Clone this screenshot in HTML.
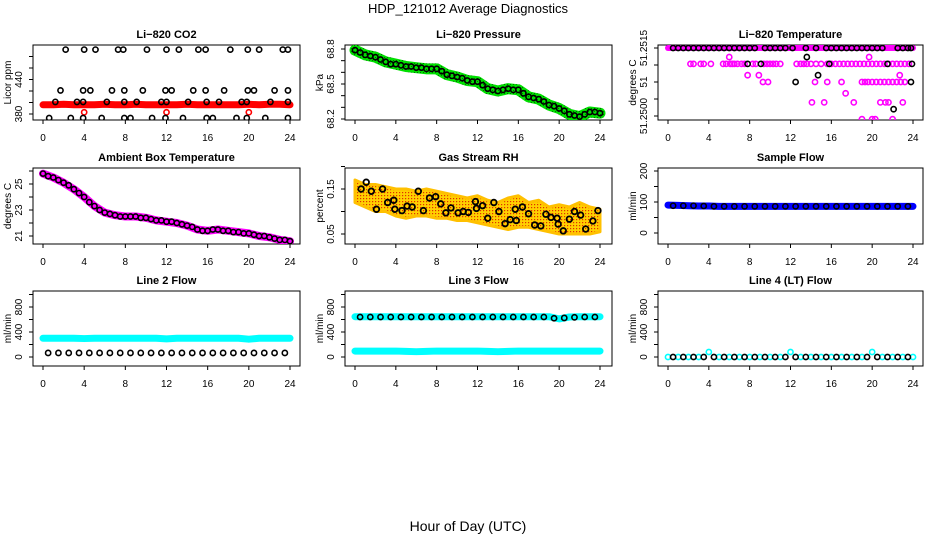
<!DOCTYPE html>
<html><head><meta charset="utf-8"><style>
html,body{margin:0;padding:0;background:#fff}
svg{display:block;font-family:"Liberation Sans",sans-serif}
</style></head><body>
<svg id="c" width="936" height="540" viewBox="0 0 936 540">
<text x="468" y="13" text-anchor="middle" font-size="13">HDP_121012  Average Diagnostics</text>
<text x="468" y="531" text-anchor="middle" font-size="14">Hour of Day (UTC)</text>
</svg>
<script>
// ---- data ----
const xTicks=[0,4,8,12,16,20,24];
const hours=[0,1,2,3,4,5,6,7,8,9,10,11,12,13,14,15,16,17,18,19,20,21,22,23,24];
const halfHours=[0.5,1.5,2.5,3.5,4.5,5.5,6.5,7.5,8.5,9.5,10.5,11.5,12.5,13.5,14.5,15.5,16.5,17.5,18.5,19.5,20.5,21.5,22.5,23.5];
// CO2
const co2Red=[396,396,397,396,396,396,397,396,396,397,396,396,396,396,397,396,396,396,396,396,397,396,397,397,396];
const co2RedOutHours=[4,12,20];
const co2RedOutVals=[383,383,383];
const co2BlackHours=[2.2,4,5.1,7.3,7.8,10.1,12,13.2,15.1,15.8,18.2,19.9,21,23.3,23.8, 1.7,3.9,4.6,6.7,7.9,9.7,11.9,12.5,14.6,15.8,17.6,19.9,20.5,22.5,23.8, 1.2,3.3,3.9,6.2,7.9,9.1,11.5,12,14.1,15.9,17.1,19.3,19.8,22.1,23.8, 0.6,2.7,3.9,5.7,7.9,8.5,10.6,11.9,13.6,15.9,16.5,18.8,19.8,21.6,23.8];
const co2BlackVals=[492,492,492,492,492,492,492,492,492,492,492,492,492,492,492, 421,421,421,421,421,421,421,421,421,421,421,421,421,421,421, 401,401,401,401,401,401,401,401,401,401,401,401,401,401,401, 373,373,373,373,373,373,373,373,373,373,373,373,373,373,373];
// Pressure
const presGreen=[68.79,68.75,68.73,68.69,68.67,68.65,68.64,68.63,68.63,68.58,68.56,68.53,68.52,68.46,68.44,68.46,68.45,68.39,68.37,68.32,68.29,68.24,68.22,68.26,68.25];
const presBlackHalf=[68.77,68.74,68.71,68.67,68.66,68.65,68.64,68.63,68.61,68.57,68.55,68.52,68.49,68.45,68.45,68.45,68.42,68.38,68.35,68.31,68.27,68.23,68.24,68.26];
// Li-820 temperature
const tempTopHours=hours;
const tempTopVals=[51.2515,51.2515,51.2515,51.2515,51.2515,51.2515,51.2515,51.2515,51.2515,51.2515,51.2515,51.2515,51.2515,51.2515,51.2515,51.2515,51.2515,51.2515,51.2515,51.2515,51.2515,51.2515,51.2515,51.2515,51.2515];
const tempMagHours=[2.2,2.5,3.2,3.5,4.2,5.4,5.7,6.1,6.3,6.5,6.8,7.2,7.5,8.3,8.6,9.4,9.7,10,10.3,10.6,11,12.6,13,13.3,13.6,14,14.5,15,15.6,16,16.4,16.8,17.2,17.6,18,18.4,18.8,19.2,19.6,20,20.4,20.8,21.2,21.6,22,22.4,22.8,23.2,23.6,
 6,19.7, 7.8,8.9,22.7, 9.3,9.8,14.4,15.6,17,19,19.3,19.6,20,20.4,20.8,21.2,21.6,22,22.4,22.8,23.2, 17.4, 14.1,15.3,18.2,20.8,21.3,21.6,23, 19,20,20.3,22];
const tempMagVals=[51.25115,51.25115,51.25115,51.25115,51.25115,51.25115,51.25115,51.25115,51.25115,51.25115,51.25115,51.25115,51.25115,51.25115,51.25115,51.25115,51.25115,51.25115,51.25115,51.25115,51.25115,51.25115,51.25115,51.25115,51.25115,51.25115,51.25115,51.25115,51.25115,51.25115,51.25115,51.25115,51.25115,51.25115,51.25115,51.25115,51.25115,51.25115,51.25115,51.25115,51.25115,51.25115,51.25115,51.25115,51.25115,51.25115,51.25115,51.25115,51.25115,
 51.2513,51.2513, 51.2509,51.2509,51.2509, 51.25075,51.25075,51.25075,51.25075,51.25075,51.25075,51.25075,51.25075,51.25075,51.25075,51.25075,51.25075,51.25075,51.25075,51.25075,51.25075,51.25075, 51.2505, 51.2503,51.2503,51.2503,51.2503,51.2503,51.2503,51.2503, 51.24993,51.24993,51.24993,51.24993];
const tempBlackHours=[0.5,1,1.5,2,2.5,3,3.5,4,4.5,5,5.5,6,6.5,7,7.5,8,8.5,9.5,10,10.5,11,11.5,12.2,13.5,14.5,15.5,16,16.5,17,17.5,18,18.5,19,19.5,20,20.5,21,22.5,23,23.5,23.8, 7.8,9.1,15.8,21.5,23.9, 13.6, 14.7, 12.5,23.8, 22.1];
const tempBlackVals=[51.2515,51.2515,51.2515,51.2515,51.2515,51.2515,51.2515,51.2515,51.2515,51.2515,51.2515,51.2515,51.2515,51.2515,51.2515,51.2515,51.2515,51.2515,51.2515,51.2515,51.2515,51.2515,51.2515,51.2515,51.2515,51.2515,51.2515,51.2515,51.2515,51.2515,51.2515,51.2515,51.2515,51.2515,51.2515,51.2515,51.2515,51.2515,51.2515,51.2515,51.2515, 51.25115,51.25115,51.25115,51.25115,51.25115, 51.2513, 51.2509, 51.25075,51.25075, 51.25015];
// Ambient
const ambMag=[25.8,25.5,25.1,24.6,24.0,23.3,22.8,22.6,22.5,22.5,22.4,22.2,22.1,22.0,21.8,21.5,21.4,21.5,21.4,21.3,21.2,21.0,20.9,20.7,20.6];
const ambBlackHalf=[25.6,25.3,24.9,24.3,23.6,23.0,22.7,22.5,22.5,22.4,22.3,22.2,22.1,21.9,21.7,21.4,21.5,21.4,21.3,21.2,21.1,21.0,20.8,20.7];
// RH
const rhUpper=[0.17,0.16,0.16,0.155,0.15,0.15,0.145,0.15,0.145,0.14,0.135,0.13,0.135,0.125,0.12,0.13,0.135,0.12,0.125,0.11,0.115,0.11,0.12,0.11,0.105];
const rhLower=[0.12,0.11,0.10,0.10,0.09,0.085,0.09,0.09,0.085,0.085,0.08,0.08,0.075,0.07,0.065,0.06,0.065,0.065,0.06,0.055,0.05,0.05,0.05,0.05,0.055];
const rhBlackHours=[0.6,1.1,1.6,2.1,2.7,3.2,3.8,3.9,4.6,5.1,5.6,6.2,6.7,7.3,7.9,8.4,8.9,9.4,10.1,10.6,11.1,11.8,11.9,12.5,13,13.6,14.1,14.7,15.2,15.7,15.8,16.4,17,17.6,18.2,18.7,19.2,19.8,19.9,20.4,21,21.5,22.1,22.6,23.3,23.8];
const rhBlackVals=[0.15,0.165,0.145,0.105,0.15,0.12,0.125,0.105,0.102,0.112,0.11,0.145,0.102,0.13,0.133,0.117,0.097,0.108,0.097,0.1,0.098,0.122,0.107,0.113,0.085,0.12,0.1,0.073,0.082,0.105,0.08,0.11,0.095,0.07,0.068,0.094,0.087,0.085,0.072,0.057,0.083,0.1,0.092,0.061,0.079,0.102];
// Flows
const sampleBlue=[90,89,88,87,87,86,86,86,86,86,86,86,86,86,86,86,86,86,86,86,86,86,86,86,86];
const sampleBlackHalf=[88,88,88,87,86,86,86,86,86,86,86,86,86,86,86,86,86,86,86,86,86,86,86,86];
const line2Cyan=[300,300,300,300,295,300,300,300,300,300,300,300,290,300,300,300,300,300,300,300,285,300,300,300,300];
const line2BlackHalf=[65,65,65,65,65,65,65,65,65,65,65,65,65,65,65,65,65,65,65,65,65,65,65,65];
const line3CyanHigh=[645,645,645,645,645,645,645,645,645,645,645,645,645,645,645,645,645,645,645,645,610,640,645,645,645];
const line3CyanLow=[95,95,95,95,95,90,85,90,95,95,95,95,95,90,85,90,95,95,95,95,95,95,95,95,95];
const line3BlackHalf=[640,640,640,640,640,640,640,640,640,640,640,640,640,640,640,640,640,640,640,620,625,635,640,640];
const line4Cyan=[0,0,0,0,80,0,0,0,0,0,0,0,80,0,0,0,0,0,0,0,80,0,0,0,0];
const line4BlackHalf=[0,0,0,0,0,0,0,0,0,0,0,0,0,0,0,0,0,0,0,0,0,0,0,0];

// ---- drawing ----
const svg=document.getElementById('c');
const NS='http://www.w3.org/2000/svg';
function mk(tag,attrs,parent){const e=document.createElementNS(NS,tag);for(const k in attrs)e.setAttribute(k,attrs[k]);(parent||svg).appendChild(e);return e;}
const cols=[{l:33,r:300,x0:43,x24:290},{l:345,r:612,x0:355,x24:600},{l:658,r:923,x0:668,x24:913}];
const rows=[{t:45,b:120},{t:168,b:244},{t:291,b:366}];
const defs=mk('defs',{});
const pat=mk('pattern',{id:'rhpat',width:3,height:3,patternUnits:'userSpaceOnUse'},defs);
mk('rect',{width:3,height:3,fill:'#ffd000'},pat);
mk('rect',{x:0,y:0,width:1.2,height:1.2,fill:'#e03000'},pat);
const gpat=mk('pattern',{id:'gpat',width:3,height:3,patternUnits:'userSpaceOnUse'},defs);
mk('rect',{width:3,height:3,fill:'#00e000'},gpat);
mk('rect',{x:0,y:0,width:1,height:1,fill:'#007000'},gpat);

function panel(name,ci,ri,title,ylab,ymin,ymax,ymapA,ymapB,yTicks,yLabels,yLabelText){
  const c=cols[ci],r=rows[ri];
  const g=mk('g',{});
  
  
  const sx=h=>c.x0+(c.x24-c.x0)*h/24;
  const sy=v=>ymapA.px+(v-ymapA.v)*(ymapB.px-ymapA.px)/(ymapB.v-ymapA.v);
  const box=mk('rect',{x:c.l,y:r.t,width:c.r-c.l,height:r.b-r.t,fill:'none',stroke:'#000','stroke-width':1},g);
  
  
  const t=mk('text',{x:(c.l+c.r)/2,y:r.t-7,'text-anchor':'middle','font-size':11,'font-weight':'bold'},g);
  t.textContent=title;
  
  
  const yl=mk('text',{transform:`translate(${c.l-22},${(r.t+r.b)/2}) rotate(-90)`,'text-anchor':'middle','font-size':10},g);
  yl.textContent=ylab;
  
  
  const xa=mk('g',{},g);
  
  
  xTicks.forEach(h=>{mk('line',{x1:sx(h),x2:sx(h),y1:r.b,y2:r.b+4,stroke:'#000'},xa);
    const tl=mk('text',{x:sx(h),y:r.b+21,'text-anchor':'middle','font-size':10},xa);tl.textContent=h;
    
    });
  const ya=mk('g',{},g);
  
  
  yTicks.forEach(v=>mk('line',{x1:c.l-4,x2:c.l,y1:sy(v),y2:sy(v),stroke:'#000'},ya));
  yLabels.forEach((v,i)=>{const tl=mk('text',{transform:`translate(${c.l-11},${sy(v)}) rotate(-90)`,'text-anchor':'middle','font-size':10},ya);tl.textContent=yLabelText[i];
    
    });
  const clipId='clip'+ci+ri;
  const cp=mk('clipPath',{id:clipId},defs);mk('rect',{x:c.l,y:r.t,width:c.r-c.l,height:r.b-r.t},cp);
  const pg=mk('g',{'clip-path':`url(#${clipId})`},g);
  return {g:pg,sx,sy};
}
function circles(p,hs,vs,color,name,rad,sw){
  const g=mk('g',{},p.g);
  
  
  hs.forEach((h,i)=>{const e=mk('circle',{cx:p.sx(h),cy:p.sy(vs[i]),r:rad||2.6,fill:'none',stroke:color,'stroke-width':sw||1.6},g);
    
    });
}
function band(p,hs,vs,color,w,name){
  const pl=mk('polyline',{points:hs.map((h,i)=>p.sx(h)+','+p.sy(vs[i])).join(' '),fill:'none',stroke:color,'stroke-width':w,'stroke-linejoin':'round','stroke-linecap':'round'},p.g);
  
  
}

// CO2
let p=panel('co2',0,0,'Li\u2212820 CO2','Licor ppm',0,0,{v:380,px:114},{v:440,px:79.5},[380,400,420,440,460,480],[380,440],['380','440']);
band(p,hours,co2Red,'#ff0000',7,'co2-red-series');
circles(p,co2RedOutHours,co2RedOutVals,'#ff0000','co2-red-outliers');
circles(p,co2BlackHours,co2BlackVals,'#000','co2-black-series');
// Pressure
p=panel('pressure',1,0,'Li\u2212820 Pressure','kPa',0,0,{v:68.2,px:119},{v:68.8,px:49},[68.2,68.3,68.4,68.5,68.6,68.7,68.8],[68.2,68.5,68.8],['68.2','68.5','68.8']);
band(p,hours,presGreen,'url(#gpat)',11,'pressure-green-series');
circles(p,hours,presGreen,'#000','pressure-black-series');
circles(p,halfHours,presBlackHalf,'#000','pressure-black-half-series');
// Li-820 Temperature
p=panel('li820-temp',2,0,'Li\u2212820 Temperature','degrees C',0,0,{v:51.25,px:116},{v:51.2515,px:48},[51.25,51.250375,51.25075,51.251125,51.2515],[51.2515,51.25075,51.25],['51.2515','51','51.2500']);
band(p,tempTopHours,tempTopVals,'#ff00ff',6,'temp-magenta-top');
circles(p,tempMagHours,tempMagVals,'#ff00ff','temp-magenta-series');
circles(p,tempBlackHours,tempBlackVals,'#000','temp-black-series');
// Ambient
p=panel('ambient-temp',0,1,'Ambient Box Temperature','degrees C',0,0,{v:21,px:236},{v:25,px:184},[21,22,23,24,25,26],[21,23,25],['21','23','25']);
band(p,hours,ambMag,'#ff00ff',8,'ambient-magenta-series');
circles(p,hours,ambMag,'#000','ambient-black-series');
circles(p,halfHours,ambBlackHalf,'#000','ambient-black-half-series');
// RH
p=panel('gas-rh',1,1,'Gas Stream RH','percent',0,0,{v:0.05,px:234},{v:0.15,px:189},[0.05,0.10,0.15,0.20],[0.05,0.15],['0.05','0.15']);
{const pts=hours.map((h,i)=>p.sx(h)+','+p.sy(rhUpper[i])).concat(hours.slice().reverse().map((h,j)=>p.sx(h)+','+p.sy(rhLower[24-j])));
 const pg=mk('polygon',{points:pts.join(' '),fill:'url(#rhpat)',stroke:'#ffc000','stroke-width':3,'stroke-linejoin':'round'},p.g);
 
 }
circles(p,rhBlackHours,rhBlackVals,'#000','rh-black-series',2.8,1.8);
// Sample flow
p=panel('sample-flow',2,1,'Sample Flow','ml/min',0,0,{v:0,px:233},{v:200,px:171},[0,50,100,150,200],[0,100,200],['0','100','200']);
band(p,hours,sampleBlue,'#0000ff',7,'sample-blue-series');
circles(p,halfHours,sampleBlackHalf,'#000','sample-black-series');
const flowTicks=[0,200,400,600,800,1000];
// Line 2
p=panel('line2-flow',0,2,'Line 2 Flow','ml/min',0,0,{v:0,px:357},{v:800,px:307},flowTicks,[0,400,800],['0','400','800']);
band(p,hours,line2Cyan,'#00ffff',7,'line2-cyan-series');
circles(p,halfHours,line2BlackHalf,'#000','line2-black-series');
// Line 3
p=panel('line3-flow',1,2,'Line 3 Flow','ml/min',0,0,{v:0,px:357},{v:800,px:307},flowTicks,[0,400,800],['0','400','800']);
band(p,hours,line3CyanHigh,'#00ffff',7,'line3-cyan-high-series');
band(p,hours,line3CyanLow,'#00ffff',7,'line3-cyan-low-series');
circles(p,halfHours,line3BlackHalf,'#000','line3-black-series');
// Line 4
p=panel('line4-flow',2,2,'Line 4 (LT) Flow','ml/min',0,0,{v:0,px:357},{v:800,px:307},flowTicks,[0,400,800],['0','400','800']);
circles(p,hours,line4Cyan,'#00ffff','line4-cyan-series');
circles(p,halfHours,line4BlackHalf,'#000','line4-black-series');
</script>
</body></html>
